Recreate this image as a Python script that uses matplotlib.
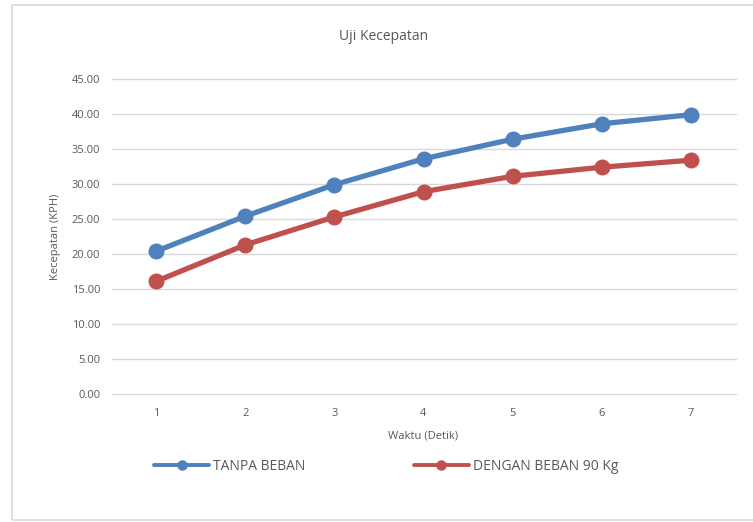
import matplotlib
matplotlib.use("Agg")
import matplotlib.pyplot as plt
from matplotlib.patches import Rectangle
from matplotlib.lines import Line2D

waktu = [1, 2, 3, 4, 5, 6, 7]
tanpa_beban = [20.4, 25.4, 29.9, 33.6, 36.4, 38.6, 39.9]
dengan_beban = [16.1, 21.3, 25.3, 28.9, 31.1, 32.4, 33.4]
yticks = [0, 5, 10, 15, 20, 25, 30, 35, 40, 45]

plt.rcParams['font.family'] = ['Open Sans', 'DejaVu Sans']
txt = '#595959'
blue = '#4F81BD'
red = '#C0504D'

fig = plt.figure(figsize=(7.53, 5.22), dpi=100)
fig.patch.set_facecolor('white')
fig.patches.append(Rectangle((12/753, 0.004), 1.0, 1 - 5/522 - 0.004, transform=fig.transFigure,
                             fill=False, edgecolor='#D9D9D9', linewidth=1.2))

ax = fig.add_axes([111.5/753, 1 - 394/522, (735.5 - 111.5)/753, (394 - 79)/522])
ax.plot(waktu, tanpa_beban, color=blue, lw=3.8, marker='o', ms=10.5, solid_capstyle='round', zorder=3)
ax.plot(waktu, dengan_beban, color=red, lw=3.8, marker='o', ms=10.5, solid_capstyle='round', zorder=3)

ax.set_xlim(0.5, 7.5)
ax.set_ylim(0, 45)
ax.set_yticks(yticks)
ax.set_yticklabels([f"{v:.2f}" for v in yticks])
ax.set_xticks(waktu)
ax.set_xticklabels([str(w) for w in waktu])
ax.grid(axis='y', color='#D9D9D9', lw=1.0)
for gl in ax.get_ygridlines():
    gl.set_clip_on(False)
ax.set_axisbelow(True)
for s in ax.spines.values():
    s.set_visible(False)
ax.tick_params(length=0, labelsize=8, colors=txt, pad=8)
ax.tick_params(axis='x', pad=10)

ax.set_ylabel('Kecepatan (KPH)', fontsize=8, color=txt, labelpad=8)
ax.set_xlabel('Waktu (Detik)', fontsize=8, color=txt, labelpad=8)
fig.text(384/753, 1 - 37/522, 'Uji Kecepatan', ha='center', va='center', fontsize=10, color=txt)

h1 = Line2D([], [], color=blue, lw=2.8, marker='o', ms=6.5, solid_capstyle='round')
h2 = Line2D([], [], color=red, lw=2.8, marker='o', ms=6.5, solid_capstyle='round')
fig.legend([h1, h2], ['TANPA BEBAN', 'DENGAN BEBAN 90 Kg'], loc='center',
           bbox_to_anchor=(386/753, 1 - 466/522), ncol=2, frameon=False,
           fontsize=10, labelcolor=txt, handlelength=4.0, handletextpad=0.25,
           columnspacing=7.8)

fig.savefig('out.png', dpi=100, facecolor='white')
